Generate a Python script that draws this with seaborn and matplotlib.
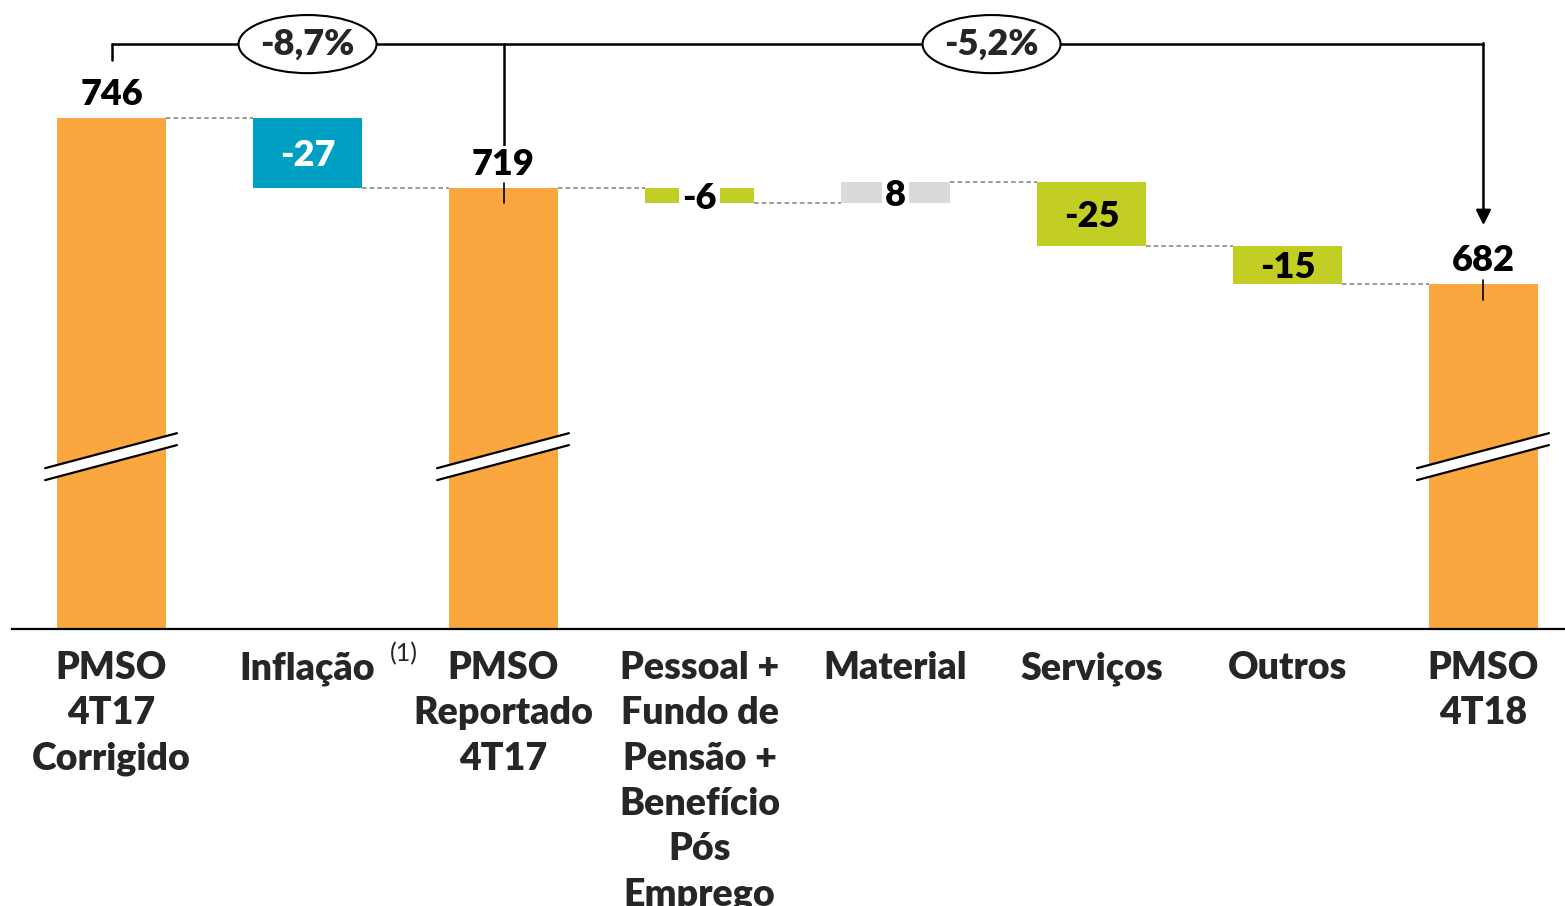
import numpy as np
import pandas as pd
import matplotlib.pyplot as plt
import seaborn as sns
from matplotlib.patches import Ellipse, Polygon

# values (R$ MM)
categories = ["PMSO\n4T17\nCorrigido", "Inflação", "PMSO\nReportado\n4T17",
              "Pessoal +\nFundo de\nPensão +\nBenefício\nPós\nEmprego",
              "Material", "Serviços", "Outros", "PMSO\n4T18"]
bar_top = [746, 746, 719, 719, 721.3, 721.3, 696.6, 682]
bar_bottom = [0, 719, 0, 713.2, 713.2, 696.6, 682, 0]
value_labels = ["746", "-27", "719", "-6", "8", "-25", "-15", "682"]
bar_kind = ["total", "inflation", "total", "cut", "increase", "cut", "cut", "total"]
pct_labels = ["-8,7%", "-5,2%"]

kind_colors = {"total": "#F9A73E", "inflation": "#00A0C4",
               "cut": "#C2CE23", "increase": "#DADADA"}

FONT = ["Lato", "DejaVu Sans"]
W = "heavy"

sns.set_style("white")
plt.rcParams["font.family"] = FONT

df = pd.DataFrame({"cat": categories, "top": bar_top, "bottom": bar_bottom,
                   "kind": bar_kind, "label": value_labels})

fig = plt.figure(figsize=(15.65, 9.06), dpi=100)
ax = fig.add_axes([12 / 1565, 1 - 629 / 906, 1 - 12 / 1565, 629 / 906])

palette = [kind_colors[k] for k in df["kind"]]
sns.barplot(data=df, x="cat", y="top", hue="cat", palette=palette,
            width=0.556, legend=False, saturation=1, ax=ax)

# turn the bars into floating waterfall steps
for patch, lo, hi in zip(ax.patches, df["bottom"], df["top"]):
    patch.set_y(lo)
    patch.set_height(hi - lo)
    patch.set_edgecolor("none")

ax.set_xlim(-0.508, 7.416)
ax.set_ylim(549, 791.5)
half = 0.278

# dashed connectors between consecutive bars
for i in range(len(df) - 1):
    if df["kind"][i] in ("cut", "inflation"):
        level = df["bottom"][i]
    else:
        level = df["top"][i]
    ax.plot([i + half, i + 1 - half], [level, level], color="#808080",
            lw=1.1, ls=(0, (3, 2)), zorder=1)

# value labels
for i, row in df.iterrows():
    mid = (row["top"] + row["bottom"]) / 2 - 1.0
    if row["kind"] == "total":
        ax.text(i, row["top"] + 9.2, row["label"], ha="center", va="center",
                fontsize=26, fontweight=W, color="black", zorder=5,
                bbox=dict(facecolor="white", edgecolor="none", pad=1))
    elif row["kind"] == "inflation":
        ax.text(i, mid, row["label"], ha="center", va="center",
                fontsize=26, fontweight=W, color="white", zorder=5)
    elif row["top"] - row["bottom"] < 10:
        ax.text(i, mid, row["label"], ha="center", va="center",
                fontsize=26, fontweight=W, color="black", zorder=5,
                bbox=dict(facecolor="white", edgecolor="none", pad=2))
    else:
        ax.text(i, mid, row["label"], ha="center", va="center",
                fontsize=26, fontweight=W, color="black", zorder=5)

# axis break marks on the total bars
for i, row in df.iterrows():
    if row["kind"] != "total":
        continue
    xl, xr = i - 0.339, i + 0.334
    ax.add_patch(Polygon([(xl, 606.4), (xl, 611.0), (xr, 624.5), (xr, 619.9)],
                         closed=True, facecolor="white", edgecolor="none",
                         zorder=3, clip_on=False))
    ax.plot([xl, xr], [611.0, 624.5], color="black", lw=1.6, zorder=4, clip_on=False)
    ax.plot([xl, xr], [606.4, 619.9], color="black", lw=1.6, zorder=4, clip_on=False)

# variation bracket on top
br = 774.5
line_kw = dict(color="black", lw=1.8, zorder=2, clip_on=False)
ax.plot([0, 7], [br, br], **line_kw)
ax.plot([0, 0], [br, 768.4], **line_kw)
ax.plot([2, 2], [br, 734.4], **line_kw)
ax.plot([2, 2], [720.9, 713.2], color="black", lw=1.2, zorder=6)
ax.plot([7, 7], [683.5, 675.8], color="black", lw=1.2, zorder=6)
ax.annotate("", xy=(7, 704.7), xytext=(7, br + 0.35),
            arrowprops=dict(arrowstyle="-|>,head_length=0.9,head_width=0.45",
                            color="black", lw=1.8, shrinkA=0, shrinkB=0),
            zorder=2, annotation_clip=False)

for xc, txt in zip([1.0, 4.49], pct_labels):
    ax.add_patch(Ellipse((xc, br), 0.704, 22.4, facecolor="white",
                         edgecolor="black", lw=1.5, zorder=4, clip_on=False))
    ax.text(xc, br, txt, ha="center", va="center", fontsize=26,
            fontweight=W, zorder=5)

# category axis
sns.despine(ax=ax, left=True, top=True, right=True)
ax.spines["bottom"].set_color("black")
ax.spines["bottom"].set_linewidth(1.6)
ax.set_yticks([])
ax.set_xlabel("")
ax.set_ylabel("")
ax.tick_params(axis="x", length=0, pad=16)
ax.set_xticks(range(len(categories)))
ax.set_xticklabels(categories, fontsize=27, fontweight=W, linespacing=1.4)
ax.text(1.49, 539.6, "(1)", ha="center", va="center", fontsize=18,
        clip_on=False)

fig.savefig("out.png", dpi=100)
